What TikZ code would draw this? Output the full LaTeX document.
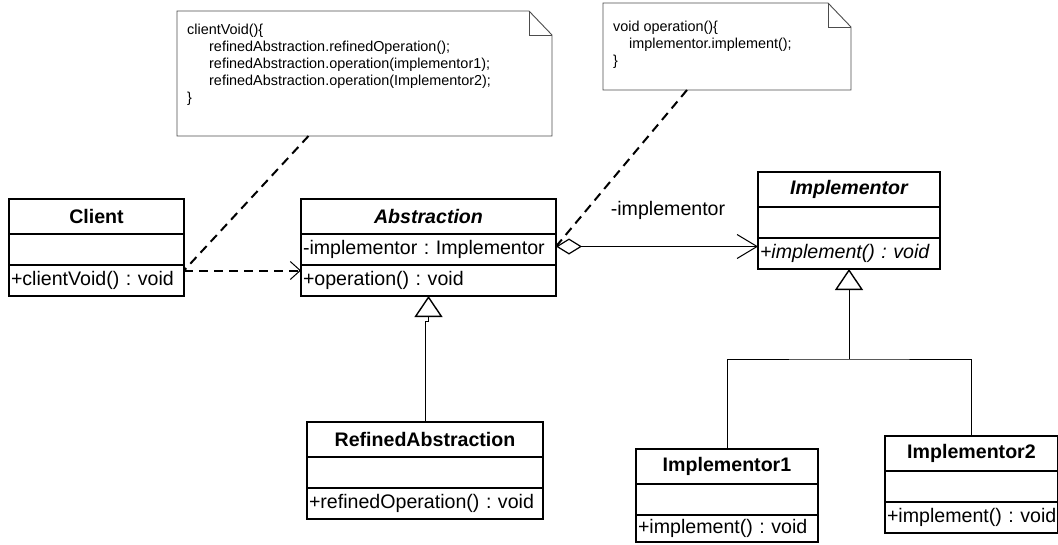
\documentclass[tikz,border=0pt]{standalone}
\usepackage{fontspec}
\setmainfont{Liberation Sans}
\usetikzlibrary{arrows.meta,positioning}

\newcommand{\umlfont}{\fontsize{19.6}{22}\selectfont\frenchspacing}
\newcommand{\notefont}{\fontsize{14.4}{17}\selectfont\frenchspacing}

\tikzset{
  classname/.style={draw, line width=1.4pt, outer sep=0pt, inner sep=0pt,
    minimum width=#1, minimum height=35pt, font=\umlfont\bfseries},
  member/.style={draw, line width=1.4pt, outer sep=0pt, inner xsep=2pt, inner ysep=0pt,
    minimum width=#1, text width={#1-4pt}, align=left, minimum height=31pt, font=\umlfont},
  notebody/.style={outer sep=0pt, inner sep=0pt},
  noteline/.style={draw=black!70, line width=0.9pt},
  notetext/.style={inner sep=0pt, align=left, font=\notefont},
  inherit/.style={line width=1pt, -{Triangle[open, length=21pt, width=28pt, line width=1.4pt]}},
  depend/.style={line width=2pt, dash pattern=on 9pt off 6pt,
    -{Straight Barb[length=10pt, width=18pt, line width=1pt]}},
  anchorline/.style={line width=2pt, dash pattern=on 9pt off 6pt},
  aggreg/.style={line width=1pt,
    {Diamond[open, length=26pt, width=16pt, line width=1.2pt]}-{Straight Barb[length=20pt, width=24pt]}},
}

\begin{document}
\begin{tikzpicture}[x=1pt, y=-1pt, node distance=0pt]
  \useasboundingbox (0,0) rectangle (1058,544);

  % classes
  \node[classname=175pt, anchor=north west] (client) at (9,199) {Client};
  \node[member=175pt, below=of client] (client-a) {};
  \node[member=175pt, below=of client-a] (client-o) {+clientVoid() : void};

  \node[classname=255pt, anchor=north west] (abs) at (301,199) {\itshape Abstraction};
  \node[member=255pt, below=of abs] (abs-a) {-implementor : Implementor};
  \node[member=255pt, below=of abs-a] (abs-o) {+operation() : void};

  \node[classname=182pt, anchor=north west] (impl) at (758,172) {\itshape Implementor};
  \node[member=182pt, below=of impl] (impl-a) {};
  \node[member=182pt, below=of impl-a] (impl-o) {\itshape +implement() : void};

  \node[classname=236pt, anchor=north west] (refined) at (307,422) {RefinedAbstraction};
  \node[member=236pt, below=of refined] (refined-a) {};
  \node[member=236pt, below=of refined-a] (refined-o) {+refinedOperation() : void};

  \node[classname=182pt, anchor=north west] (impl1) at (636,449) {Implementor1};
  \node[member=182pt, below=of impl1] (impl1-a) {};
  \node[member=182pt, minimum height=27pt, below=of impl1-a] (impl1-o) {+implement() : void};

  \node[classname=173pt, anchor=north west] (impl2) at (885,436) {Implementor2};
  \node[member=173pt, below=of impl2] (impl2-a) {};
  \node[member=173pt, below=of impl2-a] (impl2-o) {\mbox{+implement() : void}};

  % notes
  \node[notebody, minimum width=375pt, minimum height=125pt, anchor=north west] (note1) at (177,11) {};
  \node[notebody, minimum width=248pt, minimum height=87pt, anchor=north west] (note2) at (603,3) {};
  \foreach \n in {note1,note2} {
    \draw[noteline] (\n.north west) -- ([xshift=-23pt]\n.north east) -- ([yshift=-24pt]\n.north east)
      -- (\n.south east) -- (\n.south west) -- cycle;
    \draw[noteline] ([xshift=-23pt]\n.north east) |- ([yshift=-24pt]\n.north east);
  }
  \node[notetext, anchor=north west] (note1-txt) at ([xshift=10pt, yshift=-13pt]note1.north west)
    {clientVoid()\{\\
     \hspace*{22pt}refinedAbstraction.refinedOperation();\\
     \hspace*{22pt}refinedAbstraction.operation(implementor1);\\
     \hspace*{22pt}refinedAbstraction.operation(Implementor2);\\
     \}};
  \node[notetext, anchor=north west] (note2-txt) at ([xshift=10pt, yshift=-18pt]note2.north west)
    {void operation()\{\\
     \hspace*{16pt}implementor.implement();\\
     \}};

  % connectors
  \draw[depend] ([yshift=10pt]client-o.east) -- ([yshift=10pt]abs-o.west);
  \draw[anchorline] ([xshift=-56pt]note1.south) -- ([yshift=10pt]client-o.east);
  \draw[anchorline] ([xshift=-40pt]note2.south) -- ([yshift=3pt]abs-a.east);
  \draw[aggreg] ([yshift=3pt]abs-a.east) -- ([yshift=7pt]impl-o.west);
  \node[font=\umlfont] (role) at (668,210) {-implementor};

  \draw[inherit] (refined.north) |- ([yshift=-25pt]abs-o.south) -- (abs-o.south);
  \coordinate (fork) at (849,359);
  \draw[line width=1pt] (impl1.north) |- (fork) -| (impl2.north);
  \draw[inherit] (fork) -- (impl-o.south);
\end{tikzpicture}
\end{document}
